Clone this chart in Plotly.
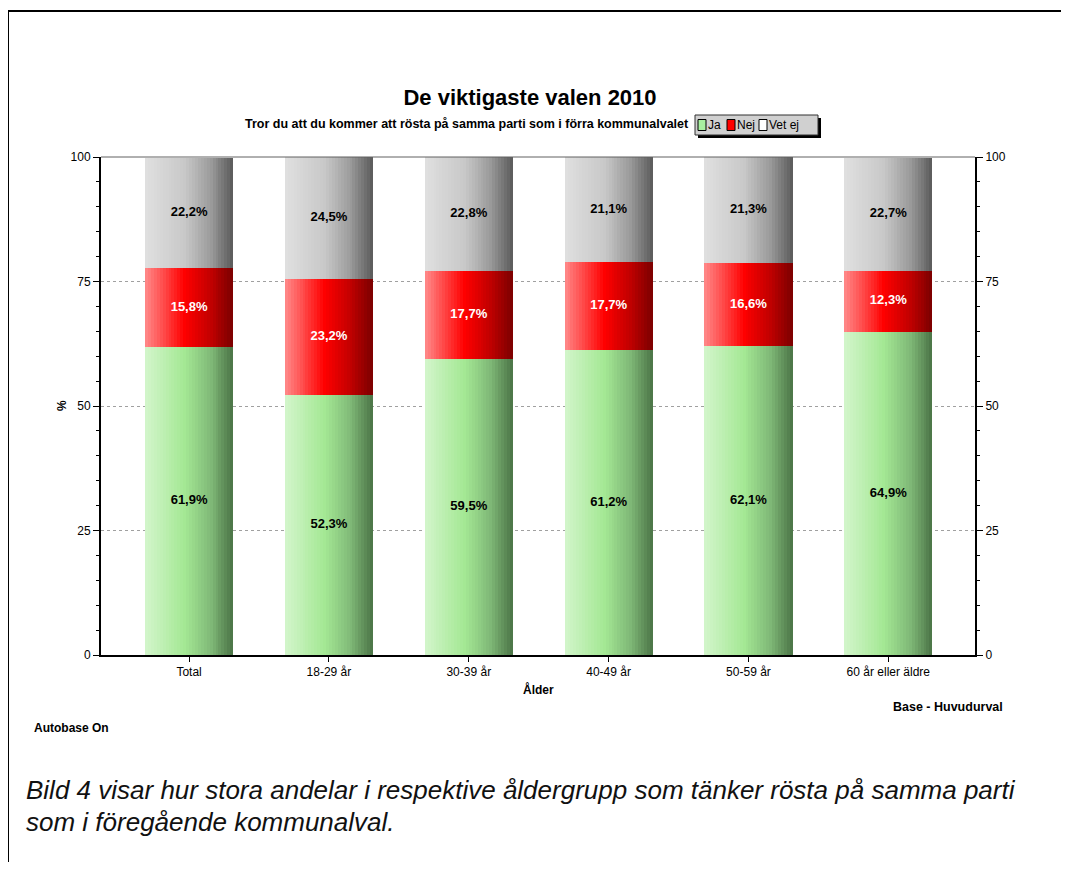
import plotly.graph_objects as go
from plotly.colors import sample_colorscale

# ---------------- data ----------------
categories = ["Total", "18-29 år", "30-39 år", "40-49 år", "50-59 år", "60 år eller äldre"]
ja = [61.9, 52.3, 59.5, 61.2, 62.1, 64.9]
nej = [15.8, 23.2, 17.7, 17.7, 16.6, 12.3]
vet_ej = [22.2, 24.5, 22.8, 21.1, 21.3, 22.7]
series_names = ["Ja", "Nej", "Vet ej"]
y_ticks = [0, 25, 50, 75, 100]

# ---------------- styles ----------------
FONT = "Arial, Liberation Sans, sans-serif"
gradients = {
    "Ja": [[0, "#d3f5cb"], [0.45, "#a4e894"], [0.75, "#7fb877"], [1, "#4b7346"]],
    "Nej": [[0, "#ff8a8a"], [0.45, "#ff0000"], [0.75, "#c00000"], [1, "#7a0000"]],
    "Vet ej": [[0, "#e0e0e0"], [0.45, "#c8c8c8"], [0.75, "#9a9a9a"], [1, "#5a5a5a"]],
}
legend_colors = {"Ja": "#a8f0a0", "Nej": "#ff0000", "Vet ej": "#ffffff"}
label_colors = {"Ja": "black", "Nej": "white", "Vet ej": "black"}

OFF = 8  # default page margin of the html body
W, H = 1069 - OFF, 870 - 2 * OFF
L, R, T, B = 101, 975, 157, 655  # page coordinates of plot area
bar_w = 0.63
N = 30

xs = list(range(len(categories)))
values = {"Ja": ja, "Nej": nej, "Vet ej": vet_ej}

fig = go.Figure()
base = [0.0] * len(categories)
label_x, label_y, label_t, label_c = [], [], [], []
for name in series_names:
    vals = values[name]
    cols = sample_colorscale(gradients[name], [(i + 0.5) / N for i in range(N)])
    s = bar_w / N
    for i in range(N):
        off = -bar_w / 2 + i * s
        wid = s * 1.8 if i < N - 1 else s
        fig.add_trace(go.Bar(
            x=xs, y=vals, base=base, offset=off, width=wid,
            marker=dict(color=cols[i], line=dict(width=0)),
            showlegend=False, hoverinfo="skip", name=name,
        ))
    for k, v in enumerate(vals):
        label_x.append(xs[k])
        label_y.append(base[k] + v / 2)
        label_t.append(f"{v:.1f}%".replace(".", ","))
        label_c.append(label_colors[name])
    base = [b + v for b, v in zip(base, vals)]

fig.add_trace(go.Scatter(
    x=label_x, y=label_y, text=label_t, mode="text",
    textfont=dict(family=FONT, size=13, color=label_c, weight="bold"),
    showlegend=False, hoverinfo="skip",
))
# invisible trace to activate right axis
fig.add_trace(go.Scatter(x=[None], y=[None], yaxis="y2", showlegend=False))

axis_font = dict(family=FONT, size=12, color="black")
fig.update_layout(
    width=W, height=H, autosize=False,
    margin=dict(l=L - OFF, r=W - (R - OFF), t=T - OFF, b=H - (B - OFF), pad=0),
    paper_bgcolor="white", plot_bgcolor="white",
    barmode="overlay", bargap=0,
    showlegend=False,
    font=dict(family=FONT, color="black"),
    title=dict(text="<b>De viktigaste valen 2010</b>", x=(530 - OFF) / W, xanchor="center",
               y=1 - (97 - OFF) / H, yanchor="middle", font=dict(family=FONT, size=22, color="black")),
    xaxis=dict(range=[-bar_w, 5 + bar_w - 0.01], tickvals=xs, ticktext=categories,
               showgrid=False, zeroline=False, showline=True, linecolor="black", linewidth=2,
               ticks="outside", ticklen=5, tickcolor="black", tickfont=axis_font),
    yaxis=dict(range=[0, 100], tickvals=y_ticks, showgrid=True, gridcolor="#a0a0a0",
               griddash="dot", gridwidth=1, zeroline=False, showline=True, linecolor="black",
               linewidth=2, ticks="outside", ticklen=6, tickcolor="black", tickfont=axis_font,
               minor=dict(dtick=5, ticks="outside", ticklen=3, tickcolor="black", showgrid=False)),
    yaxis2=dict(range=[0, 100], tickvals=y_ticks, overlaying="y", side="right", showgrid=False,
                zeroline=False, showline=True, linecolor="black", linewidth=2, ticks="outside",
                ticklen=6, tickcolor="black", tickfont=axis_font,
                minor=dict(dtick=5, ticks="outside", ticklen=3, tickcolor="black")),
)

def px_x(x):
    return (x - L) / (R - L)

def px_y(y):
    return (B - y) / (B - T)

bold = dict(family=FONT, size=12.5, color="black")
annotations = [
    dict(text="<b>Tror du att du kommer att rösta på samma parti som i förra kommunalvalet</b>",
         x=px_x(691), y=px_y(124), xanchor="right", yanchor="middle", font=bold),
    dict(text="<b>%</b>", x=px_x(62), y=px_y(406), textangle=-90, xanchor="center", yanchor="middle",
         font=dict(family=FONT, size=12, color="black")),
    dict(text="<b>Ålder</b>", x=px_x(538), y=px_y(689), xanchor="center", yanchor="middle",
         font=dict(family=FONT, size=12, color="black")),
    dict(text="<b>Base - Huvudurval</b>", x=px_x(1005), y=px_y(707), xanchor="right", yanchor="middle",
         font=dict(family=FONT, size=12.5, color="black")),
    dict(text="<b>Autobase On</b>", x=px_x(32), y=px_y(728), xanchor="left", yanchor="middle",
         font=dict(family=FONT, size=12, color="black")),
    dict(text="<i>Bild 4 visar hur stora andelar i respektive åldergrupp som tänker rösta på samma parti</i>",
         x=px_x(24), y=px_y(790), xanchor="left", yanchor="middle",
         font=dict(family=FONT, size=26, color="#111111")),
    dict(text="<i>som i föregående kommunalval.</i>",
         x=px_x(24), y=px_y(822), xanchor="left", yanchor="middle",
         font=dict(family=FONT, size=26, color="#111111")),
]

shapes = [
    # page frame
    dict(type="line", xref="paper", yref="paper", x0=px_x(8), x1=px_x(1080), y0=px_y(11), y1=px_y(11),
         line=dict(color="black", width=2)),
    dict(type="line", xref="paper", yref="paper", x0=px_x(8), x1=px_x(8), y0=px_y(11), y1=px_y(880),
         line=dict(color="black", width=2)),
    # plot top border
    dict(type="line", xref="paper", yref="paper", x0=0, x1=1, y0=1, y1=1,
         line=dict(color="#606060", width=1)),
    # legend shadow & box
    dict(type="rect", xref="paper", yref="paper", x0=px_x(698), x1=px_x(821), y0=px_y(118), y1=px_y(138),
         fillcolor="black", line=dict(width=0)),
    dict(type="rect", xref="paper", yref="paper", x0=px_x(695), x1=px_x(818), y0=px_y(115), y1=px_y(135),
         fillcolor="#d0d0d0", line=dict(color="#303030", width=1)),
]

legend_items = [("Ja", 698, 708), ("Nej", 727, 737), ("Vet ej", 759, 769)]
for name, sx, tx in legend_items:
    shapes.append(dict(type="rect", xref="paper", yref="paper",
                       x0=px_x(sx), x1=px_x(sx + 8), y0=px_y(119.5), y1=px_y(130.5),
                       fillcolor=legend_colors[name], line=dict(color="black", width=1)))
    annotations.append(dict(text=name, x=px_x(tx), y=px_y(125), xanchor="left", yanchor="middle",
                            font=dict(family=FONT, size=12, color="black"), xshift=-2))

for a in annotations:
    a.setdefault("xref", "paper")
    a.setdefault("yref", "paper")
    a.setdefault("showarrow", False)

fig.update_layout(annotations=annotations, shapes=shapes)
fig.write_html("out.html")
